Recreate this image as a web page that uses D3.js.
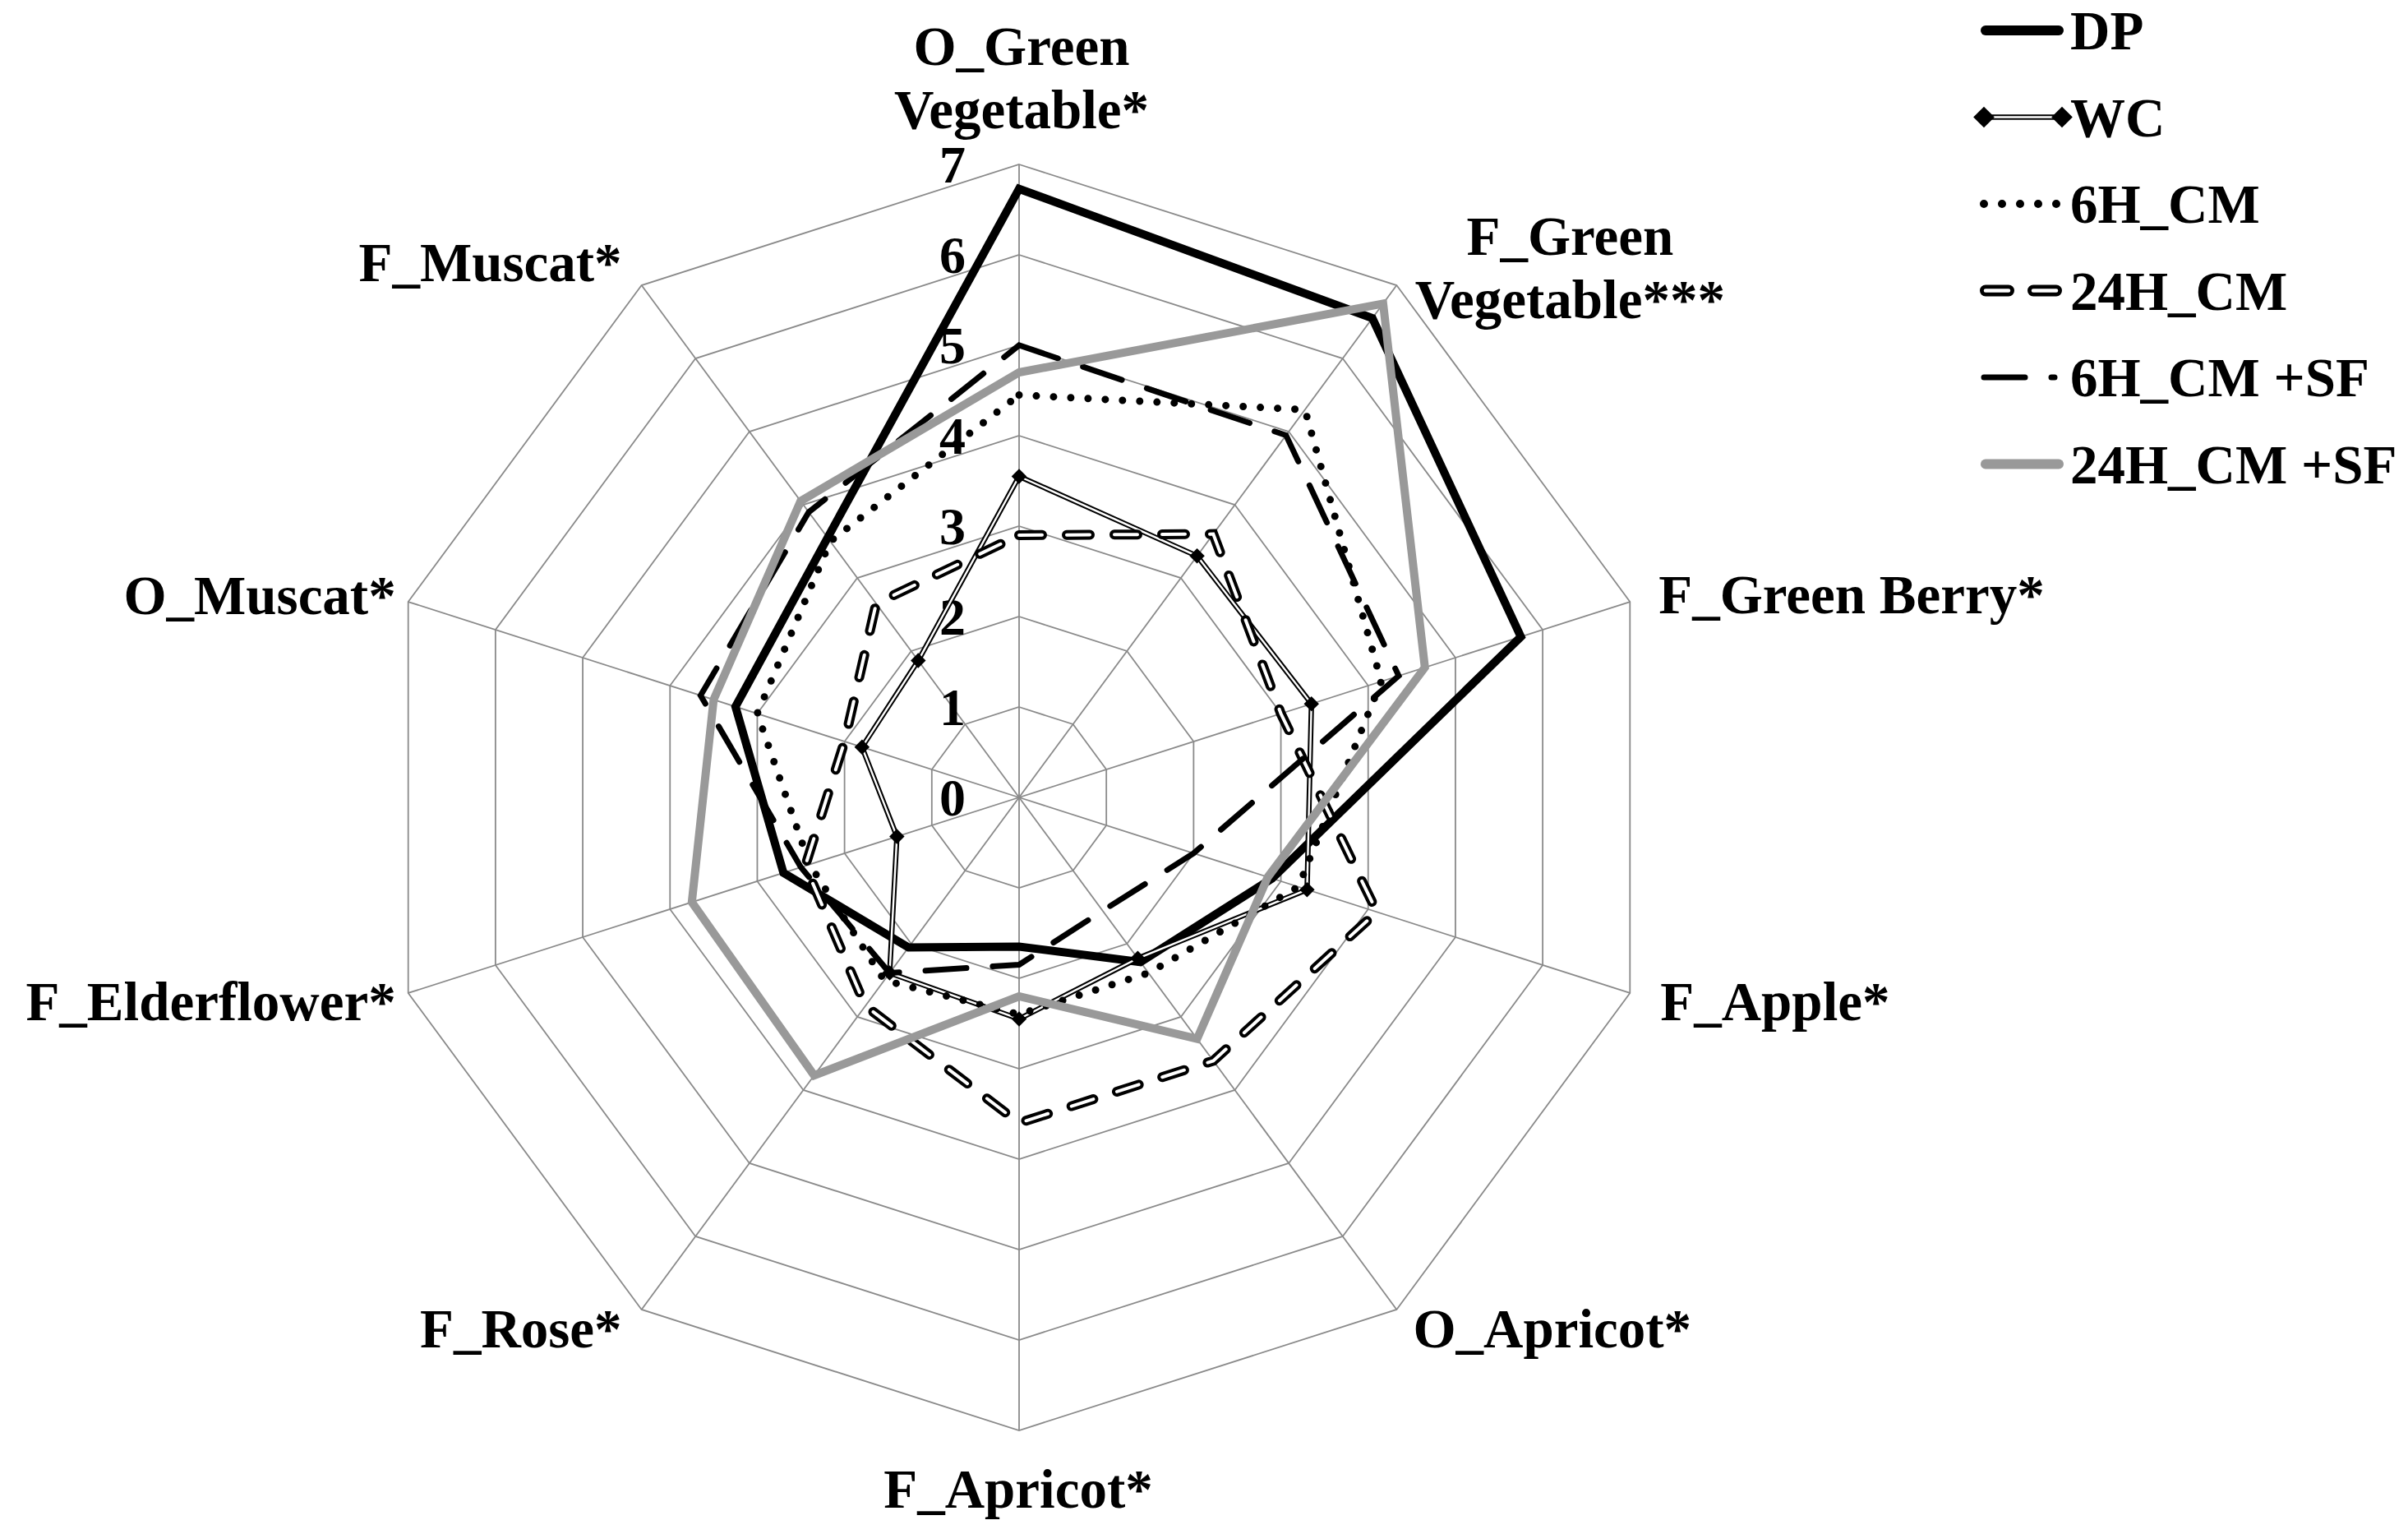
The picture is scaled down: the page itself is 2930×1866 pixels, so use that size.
<!DOCTYPE html>
<html>
<head>
<meta charset="utf-8">
<script src="https://cdn.jsdelivr.net/npm/d3@7"></script>
<style>
  body { margin: 0; background: #fff; }
  svg text { font-family: "Liberation Serif", "Times New Roman", serif; font-weight: bold; fill: #000; }
</style>
</head>
<body>
<svg id="chart" width="2930" height="1866"></svg>
<script>
// axes, clockwise from the top
const categories = ["O_Green Vegetable*", "F_Green Vegetable***", "F_Green Berry*", "F_Apple*", "O_Apricot*",
                    "F_Apricot*", "F_Rose*", "F_Elderflower*", "O_Muscat*", "F_Muscat*"];
const seriesNames = ["DP", "WC", "6H_CM", "24H_CM", "6H_CM +SF", "24H_CM +SF"];

// values (same order as categories)
const dpValues      = [6.73, 6.55, 5.75, 2.9, 2.25, 1.65, 2.05, 2.7, 3.25, 3.55];
const wcValues      = [3.55, 3.3, 3.35, 3.3, 2.2, 2.45, 2.4, 1.4, 1.8, 1.87];
const h6cmValues    = [4.45, 5.3, 4.15, 3.2, 2.4, 2.4, 2.5, 2.4, 3.0, 3.5];
const h24cmValues   = [2.9, 3.6, 3.0, 4.1, 3.6, 3.6, 2.85, 2.45, 2.0, 2.65];
const h6cmSfValues  = [5.0, 4.95, 4.35, 2.0, 1.55, 1.85, 2.4, 2.5, 3.65, 3.9];
const h24cmSfValues = [4.7, 6.75, 4.65, 2.85, 3.3, 2.2, 3.8, 3.75, 3.5, 4.05];

const tickValues = [0, 1, 2, 3, 4, 5, 6, 7];

const svg = d3.select("#chart");
const cx = 1240, cy = 970;
const xStretch = 1.015; // the source picture is very slightly wider than tall
const r = d3.scaleLinear().domain([0, 7]).range([0, 770]);
const n = categories.length;
const angle = i => i * 2 * Math.PI / n;
const pt = (v, i) => [cx + xStretch * r(v) * Math.sin(angle(i)), cy - r(v) * Math.cos(angle(i))];
const closedLine = d3.line().curve(d3.curveLinearClosed);

svg.append("rect").attr("width", 2930).attr("height", 1866).attr("fill", "#fff");

// grid rings + spokes
const grid = svg.append("g").attr("fill", "none").attr("stroke", "#8a8a8a").attr("stroke-width", 1.8);
tickValues.filter(t => t > 0).forEach(t => {
  grid.append("path").attr("d", closedLine(d3.range(n).map(i => pt(t, i))));
});
d3.range(n).forEach(i => {
  const [x, y] = pt(7, i);
  grid.append("line").attr("x1", cx).attr("y1", cy).attr("x2", x).attr("y2", y);
});

// tick labels along the top axis
svg.append("g").selectAll("text").data(tickValues).join("text")
  .attr("x", cx - 65).attr("y", d => cy - r(d)).attr("dy", "0.35em")
  .attr("text-anchor", "end").attr("font-size", 64).text(d => d);

// category labels (layout tweaks per axis to follow the original placement)
const labelLayout = [
  { dx: 3, dy: -144, anchor: "middle", lines: ["O_Green", "Vegetable*"] },
  { dx: 211, dy: -61, anchor: "middle", lines: ["F_Green", "Vegetable***"] },
  { dx: 35, dy: -10, anchor: "start" },
  { dx: 37, dy: 10, anchor: "start" },
  { dx: 20, dy: 23, anchor: "start" },
  { dx: -1, dy: 71, anchor: "middle" },
  { dx: -24, dy: 23, anchor: "end" },
  { dx: -15, dy: 10, anchor: "end" },
  { dx: -15, dy: -9, anchor: "end" },
  { dx: -24, dy: -29, anchor: "end" }
];
const labels = svg.append("g").attr("font-size", 67);
categories.forEach((c, i) => {
  const [x, y] = pt(7, i);
  const L = labelLayout[i];
  const lines = L.lines || [c];
  lines.forEach((s, k) => {
    labels.append("text").attr("x", x + L.dx).attr("y", y + L.dy + k * 77).attr("dy", "0.35em")
      .attr("text-anchor", L.anchor).text(s);
  });
});

// series styles
const styles = [
  { layers: [{ stroke: "#000", width: 10 }] },
  { layers: [{ stroke: "#000", width: 6.5 }, { stroke: "#fff", width: 2.4 }], marker: true },
  { layers: [{ stroke: "#000", width: 9, dash: "0 21", cap: "round" }] },
  { layers: [{ stroke: "#000", width: 12, dash: "28 30", cap: "round" }, { stroke: "#fff", width: 4, dash: "28 30", cap: "round" }] },
  { layers: [{ stroke: "#000", width: 7, dash: "50 32", cap: "round" }] },
  { layers: [{ stroke: "#999", width: 10 }] }
];
const allSeries = [dpValues, wcValues, h6cmValues, h24cmValues, h6cmSfValues, h24cmSfValues];
const diamond = size => d3.symbol(d3.symbolSquare, size);

const plot = svg.append("g").attr("fill", "none").attr("stroke-linejoin", "miter");
allSeries.forEach((vals, s) => {
  const pts = vals.map((v, i) => pt(v, i));
  styles[s].layers.forEach(l => {
    plot.append("path").attr("d", closedLine(pts))
      .attr("stroke", l.stroke).attr("stroke-width", l.width)
      .attr("stroke-dasharray", l.dash || null)
      .attr("stroke-linecap", l.cap || "butt");
  });
  if (styles[s].marker) {
    plot.selectAll(null).data(pts).join("path")
      .attr("d", diamond(170)())
      .attr("transform", d => `translate(${d[0]},${d[1]}) rotate(45)`)
      .attr("fill", "#000").attr("stroke", "none");
  }
});

// legend: each sample line has its own span so the dash patterns end like the original
const legendSpans = [[2416, 2505], [2414, 2509], [2414, 2503], [2416, 2502], [2414, 2500], [2416, 2505]];
const legendWidths = [12, 6.5, 10, 14, 7, 12];
const legend = svg.append("g");
const ly0 = 37, lstep = 105.5;
seriesNames.forEach((name, s) => {
  const y = ly0 + s * lstep;
  const [x1, x2] = legendSpans[s];
  styles[s].layers.forEach((l, k) => {
    const w = k === 0 ? legendWidths[s] : (s === 3 ? 4.5 : l.width);
    legend.append("line").attr("x1", x1).attr("x2", x2).attr("y1", y).attr("y2", y)
      .attr("stroke", l.stroke).attr("stroke-width", w)
      .attr("stroke-dasharray", s === 2 ? "0 22" : (l.dash || null))
      .attr("stroke-linecap", s === 1 ? "butt" : "round");
  });
  if (styles[s].marker) {
    [x1, x2].forEach(x => {
      legend.append("path").attr("d", diamond(330)())
        .attr("transform", `translate(${x},${y}) rotate(45)`).attr("fill", "#000");
    });
  }
  legend.append("text").attr("x", 2519).attr("y", y).attr("dy", "0.35em")
    .attr("font-size", 67).text(name);
});
</script>
</body>
</html>
